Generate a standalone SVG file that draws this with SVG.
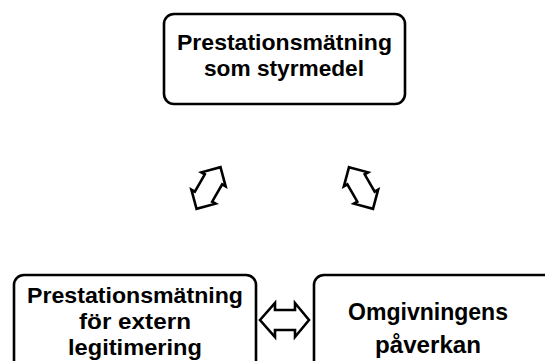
<svg xmlns="http://www.w3.org/2000/svg" width="545" height="361" viewBox="0 0 545 361">
<style>
.box{fill:#fff;stroke:#000;stroke-width:2.6}
.arr{fill:#fff;stroke:#000;stroke-width:2.6;stroke-linejoin:miter}
text{font-family:"Liberation Sans",Arial,sans-serif;font-weight:700;fill:#000;text-anchor:middle}
.t{font-size:21.5px}
.r{font-size:24px}
</style>
<rect width="545" height="361" fill="#fff"/>
<defs>
<polygon id="dbl" points="-24,0 -10,-14 -10,-10 10,-10 10,-14 24,0 10,14 10,10 -10,10 -10,14"/>
</defs>
<g id="top">
<rect class="box" x="164" y="14" width="241" height="90" rx="10"/>
<text class="t" x="284.5" y="50" textLength="215" lengthAdjust="spacingAndGlyphs">Prestationsmätning</text>
<text class="t" x="284" y="76" textLength="160" lengthAdjust="spacingAndGlyphs">som styrmedel</text>
</g>
<g id="left">
<rect class="box" x="14" y="275" width="242" height="100" rx="10"/>
<text class="t" x="135" y="303" textLength="216" lengthAdjust="spacingAndGlyphs">Prestationsmätning</text>
<text class="t" x="135" y="329" textLength="112" lengthAdjust="spacingAndGlyphs">för extern</text>
<text class="t" x="135" y="355" textLength="134" lengthAdjust="spacingAndGlyphs">legitimering</text>
</g>
<g id="right">
<rect class="box" x="314" y="275" width="250" height="100" rx="10"/>
<text class="r" x="428" y="320" textLength="160" lengthAdjust="spacingAndGlyphs">Omgivningens</text>
<text class="r" x="428" y="353" textLength="106" lengthAdjust="spacingAndGlyphs">påverkan</text>
</g>
<g id="connectors">
<polygon class="arr" points="260,320 275,303 275,310 295,310 295,303 309,320 295,337 295,330 275,330 275,337"/>
<use href="#dbl" class="arr" transform="translate(208.5,188) rotate(-60)"/>
<use href="#dbl" class="arr" transform="translate(361,188) rotate(60)"/>
</g>
</svg>
